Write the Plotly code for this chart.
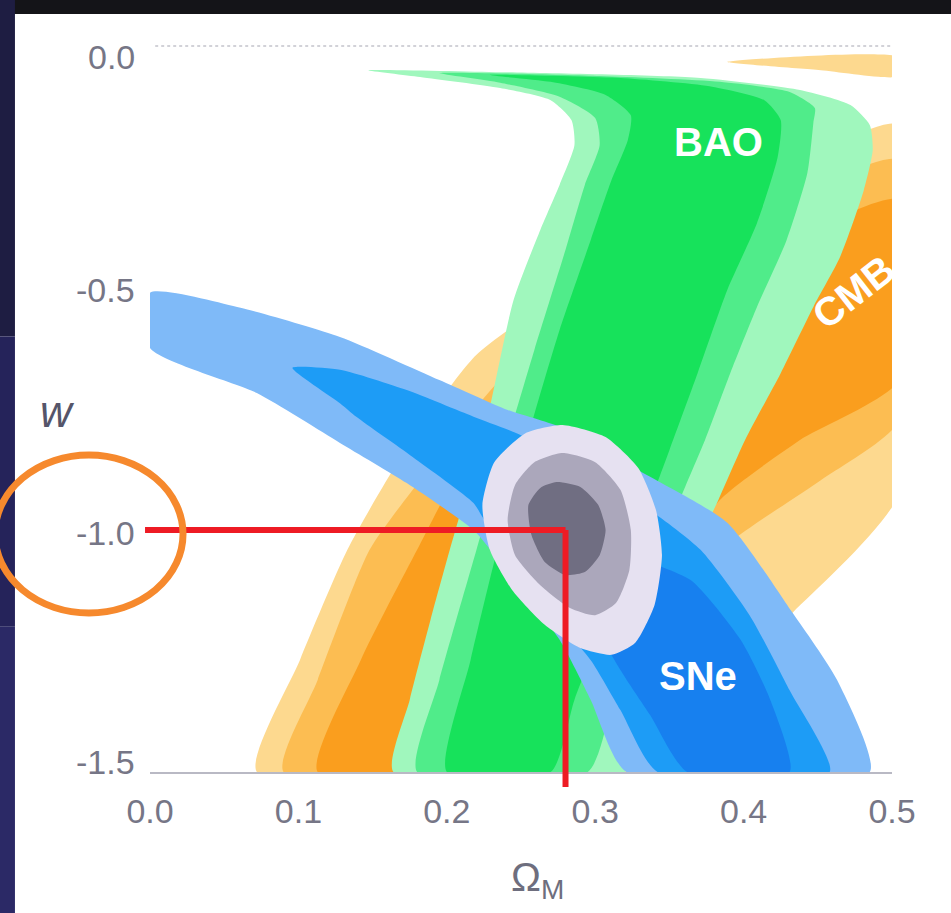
import plotly.graph_objects as go

# ---------------- axes / ticks ----------------
X_RANGE = [0.0, 0.5]
Y_RANGE = [-1.5, 0.0]
X_TICKS = [0.0, 0.1, 0.2, 0.3, 0.4, 0.5]
X_TICK_LABELS = ["0.0", "0.1", "0.2", "0.3", "0.4", "0.5"]
Y_TICKS = [0.0, -0.5, -1.0, -1.5]
Y_TICK_LABELS = ["0.0", "-0.5", "-1.0", "-1.5"]

# best-fit point marked in red
OM_BEST = 0.28
W_BEST = -1.0

# ---------------- CMB contours (Omega_M, w) ----------------
CMB_OUTER_OM = [0.072, 0.101, 0.133, 0.168, 0.220, 0.303, 0.404, 0.505, 0.505, 0.433, 0.371, 0.321]
CMB_OUTER_W = [-1.5, -1.269, -1.041, -0.855, -0.638, -0.463, -0.298, -0.163, -0.924, -1.171, -1.351, -1.5]
CMB_MID_OM = [0.090, 0.113, 0.148, 0.182, 0.236, 0.317, 0.411, 0.505, 0.505, 0.452, 0.393, 0.357, 0.330, 0.303]
CMB_MID_W = [-1.5, -1.310, -1.041, -0.897, -0.690, -0.504, -0.349, -0.236, -0.773, -0.897, -1.021, -1.145, -1.310, -1.5]
CMB_IN_OM = [0.113, 0.142, 0.180, 0.209, 0.263, 0.344, 0.438, 0.505, 0.505, 0.438, 0.384, 0.357, 0.317, 0.283]
CMB_IN_W = [-1.5, -1.269, -1.041, -0.876, -0.690, -0.525, -0.390, -0.318, -0.690, -0.814, -0.938, -1.062, -1.269, -1.5]
CMB_TOP_OM = [0.389, 0.505, 0.505, 0.452]
CMB_TOP_W = [-0.033, -0.023, -0.062, -0.050]

# ---------------- BAO contours ----------------
BAO_OUTER_OM = [0.147, 0.236, 0.371, 0.438, 0.472, 0.485, 0.487, 0.481, 0.465, 0.447, 0.425, 0.401, 0.383,
                0.364, 0.344, 0.330, 0.320, 0.164, 0.175, 0.189, 0.202, 0.227, 0.245, 0.263, 0.276, 0.286,
                0.284, 0.270, 0.236, 0.182]
BAO_OUTER_W = [-0.050, -0.054, -0.066, -0.091, -0.122, -0.163, -0.215, -0.298, -0.436, -0.539, -0.676, -0.814,
               -0.938, -1.062, -1.227, -1.351, -1.5, -1.5, -1.351, -1.186, -1.041, -0.773, -0.525, -0.380,
               -0.287, -0.205, -0.153, -0.112, -0.087, -0.064]
BAO_MID_OM = [0.195, 0.303, 0.384, 0.431, 0.448, 0.447, 0.443, 0.429, 0.409, 0.391, 0.374, 0.357, 0.337, 0.317,
              0.295, 0.180, 0.195, 0.220, 0.239, 0.259, 0.280, 0.293, 0.303, 0.300, 0.276, 0.236]
BAO_MID_W = [-0.056, -0.062, -0.074, -0.095, -0.128, -0.159, -0.262, -0.401, -0.539, -0.676, -0.814, -0.938,
             -1.103, -1.269, -1.5, -1.5, -1.310, -1.041, -0.835, -0.628, -0.421, -0.287, -0.205, -0.149,
             -0.105, -0.076]
BAO_IN_OM = [0.229, 0.317, 0.377, 0.414, 0.425, 0.423, 0.409, 0.389, 0.369, 0.350, 0.330, 0.307, 0.286, 0.270,
             0.200, 0.216, 0.234, 0.256, 0.276, 0.297, 0.311, 0.322, 0.324, 0.307, 0.270]
BAO_IN_W = [-0.060, -0.066, -0.083, -0.112, -0.153, -0.229, -0.366, -0.504, -0.676, -0.835, -1.000, -1.186,
            -1.351, -1.5, -1.5, -1.269, -1.041, -0.793, -0.587, -0.401, -0.277, -0.194, -0.143, -0.101, -0.074]

# ---------------- SNe contours ----------------
SNE_OUTER_OM = [0.0, 0.061, 0.128, 0.195, 0.241, 0.276, 0.337, 0.389, 0.433, 0.463, 0.485, 0.321, 0.297, 0.276,
                0.231, 0.218, 0.173, 0.128, 0.072, 0.0]
SNE_OUTER_W = [-0.510, -0.541, -0.601, -0.690, -0.752, -0.787, -0.890, -0.985, -1.171, -1.310, -1.5, -1.5,
               -1.351, -1.227, -1.047, -1.000, -0.903, -0.820, -0.717, -0.624]
SNE_MID_OM = [0.096, 0.128, 0.173, 0.218, 0.247, 0.276, 0.337, 0.371, 0.404, 0.431, 0.458, 0.342, 0.317, 0.297,
              0.263, 0.224, 0.218, 0.177, 0.139, 0.128]
SNE_MID_W = [-0.665, -0.669, -0.711, -0.766, -0.800, -0.845, -0.959, -1.041, -1.176, -1.331, -1.5, -1.5, -1.372,
             -1.269, -1.145, -0.973, -0.944, -0.849, -0.766, -0.738]
SNE_IN_OM = [0.324, 0.364, 0.398, 0.418, 0.431, 0.362, 0.337, 0.317, 0.303, 0.307]
SNE_IN_W = [-1.062, -1.103, -1.227, -1.351, -1.5, -1.5, -1.382, -1.289, -1.207, -1.124]

# ---------------- combined contours ----------------
ALL_OUTER_OM = [0.278, 0.307, 0.329, 0.341, 0.345, 0.340, 0.327, 0.311, 0.290, 0.266, 0.244, 0.229, 0.224, 0.232, 0.253]
ALL_OUTER_W = [-0.783, -0.808, -0.872, -0.959, -1.052, -1.155, -1.233, -1.258, -1.244, -1.196, -1.124, -1.041,
               -0.948, -0.860, -0.800]
ALL_MID_OM = [0.278, 0.300, 0.317, 0.324, 0.323, 0.314, 0.300, 0.283, 0.263, 0.246, 0.241, 0.246, 0.259]
ALL_MID_W = [-0.841, -0.860, -0.917, -1.000, -1.083, -1.151, -1.176, -1.161, -1.114, -1.052, -0.979, -0.907, -0.860]
ALL_IN_OM = [0.274, 0.290, 0.302, 0.307, 0.303, 0.293, 0.280, 0.266, 0.257, 0.255, 0.263]
ALL_IN_W = [-0.901, -0.911, -0.948, -1.000, -1.052, -1.087, -1.093, -1.066, -1.010, -0.948, -0.913]

LABELS = ["BAO", "CMB", "SNe"]
LABEL_OM = [0.383, 0.474, 0.369]
LABEL_W = [-0.198, -0.508, -1.302]
LABEL_ANGLE = [0, -38, 0]

layers = [
    (CMB_OUTER_OM, CMB_OUTER_W, "#fdd98f"),
    (CMB_MID_OM, CMB_MID_W, "#fcbd52"),
    (CMB_IN_OM, CMB_IN_W, "#fa9e1e"),
    (CMB_TOP_OM, CMB_TOP_W, "#fdd98f"),
    (BAO_OUTER_OM, BAO_OUTER_W, "#a0f7bd"),
    (BAO_MID_OM, BAO_MID_W, "#50ec8a"),
    (BAO_IN_OM, BAO_IN_W, "#17e25b"),
    (SNE_OUTER_OM, SNE_OUTER_W, "#7fbaf8"),
    (SNE_MID_OM, SNE_MID_W, "#1d9cf6"),
    (SNE_IN_OM, SNE_IN_W, "#1780ef"),
    (ALL_OUTER_OM, ALL_OUTER_W, "#e6e1f1"),
    (ALL_MID_OM, ALL_MID_W, "#aba7bb"),
    (ALL_IN_OM, ALL_IN_W, "#706e82"),
]

fig = go.Figure()
for om, w, col in layers:
    fig.add_trace(go.Scatter(
        x=om + [om[0]], y=w + [w[0]], mode="lines", fill="toself", fillcolor=col,
        line=dict(width=0, color=col, shape="spline", smoothing=0.6),
        hoverinfo="skip", showlegend=False))

FONT = "Liberation Sans, Arial, sans-serif"
TICK_FONT = dict(family=FONT, size=34, color="#767686")

fig.update_layout(
    width=951, height=913,
    margin=dict(l=150, r=59, t=46, b=141),
    paper_bgcolor="white", plot_bgcolor="white",
    xaxis=dict(range=X_RANGE, tickvals=X_TICKS, ticktext=X_TICK_LABELS, tickfont=TICK_FONT,
               showgrid=False, zeroline=False, showline=True, linecolor="#b9b9c4", linewidth=1.5,
               ticks="", ticklabelstandoff=8, fixedrange=True),
    yaxis=dict(range=Y_RANGE, tickvals=Y_TICKS, showticklabels=False,
               showgrid=False, zeroline=False, showline=False, ticks="", fixedrange=True),
)

# y tick labels (the end labels sit slightly inside the frame, as in the original)
Y_LABEL_SHIFT = [-11, -2, -3, 10]
ann = []
for v, t, s in zip(Y_TICKS, Y_TICK_LABELS, Y_LABEL_SHIFT):
    ann.append(dict(x=-0.0175, y=v, xref="paper", yref="y", text=t, showarrow=False,
                    xanchor="right", yanchor="middle", yshift=s, font=TICK_FONT))
for t, xo, yo, ang in zip(LABELS, LABEL_OM, LABEL_W, LABEL_ANGLE):
    ann.append(dict(x=xo, y=yo, xref="x", yref="y", text="<b>%s</b>" % t, showarrow=False,
                    textangle=ang, font=dict(family=FONT, size=40, color="white")))
ann.append(dict(x=-0.151, y=0.496, xref="paper", yref="paper", text="<i>w</i>", showarrow=False,
                font=dict(family=FONT, size=44, color="#55556a")))
ann.append(dict(x=0.522, y=-0.186, xref="paper", yref="paper", text="Ω<sub>M</sub>", showarrow=False,
                font=dict(family=FONT, size=40, color="#6e6e7e")))
fig.update_layout(annotations=ann)

xfrac = (OM_BEST - X_RANGE[0]) / (X_RANGE[1] - X_RANGE[0])
yfrac = (W_BEST - Y_RANGE[0]) / (Y_RANGE[1] - Y_RANGE[0])
shapes = [
    # photo frame of the slide
    dict(type="rect", xref="paper", yref="paper", x0=-0.21, x1=1.09, y0=1.044, y1=1.07,
         fillcolor="#141418", line=dict(width=0)),
    dict(type="rect", xref="paper", yref="paper", x0=-0.21, x1=-0.182, y0=0.6, y1=1.07,
         fillcolor="#1e1d42", line=dict(width=0)),
    dict(type="rect", xref="paper", yref="paper", x0=-0.21, x1=-0.182, y0=0.2, y1=0.6,
         fillcolor="#25235a", line=dict(width=0)),
    dict(type="rect", xref="paper", yref="paper", x0=-0.21, x1=-0.182, y0=-0.2, y1=0.2,
         fillcolor="#2b2966", line=dict(width=0)),
    # dotted top frame line at w = 0
    dict(type="line", xref="paper", yref="paper", x0=0.007, x1=1.0, y0=1.0, y1=1.0,
         line=dict(color="#c4c4cc", width=1.5, dash="dot")),
    # red guide lines
    dict(type="line", xref="paper", yref="y", x0=-0.0067, x1=xfrac, y0=W_BEST, y1=W_BEST,
         line=dict(color="#ee1b24", width=6)),
    dict(type="line", xref="x", yref="paper", x0=OM_BEST, x1=OM_BEST, y0=-0.0207, y1=yfrac,
         line=dict(color="#ee1b24", width=6)),
    # orange highlight ring around the -1.0 label
    dict(type="circle", xref="paper", yref="paper", x0=-0.209, x1=0.0445, y0=0.219, y1=0.4366,
         line=dict(color="#f6892d", width=7)),
]
fig.update_layout(shapes=shapes)

fig.write_html("out.html", config={"displayModeBar": False},
               post_script="document.body.style.margin='0';document.body.style.overflow='hidden';")
